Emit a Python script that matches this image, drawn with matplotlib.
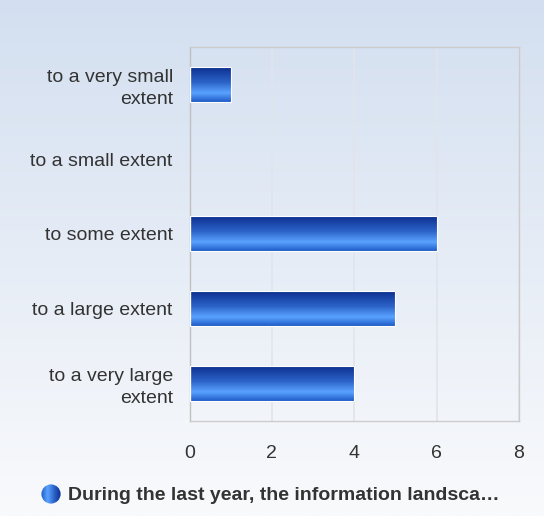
import numpy as np
import matplotlib.pyplot as plt
from matplotlib.colors import LinearSegmentedColormap

plt.rcParams['font.family'] = ['Liberation Sans', 'DejaVu Sans']

categories = ['to a very small\nextent', 'to a small extent', 'to some extent',
              'to a large extent', 'to a very large\nextent']
values = [1, 0, 6, 5, 4]
series_name = 'During the last year, the information landsca…'

W, H = 544, 516
fig = plt.figure(figsize=(W / 100, H / 100), dpi=100)

# background gradient
bg = fig.add_axes([0, 0, 1, 1], zorder=-10)
bg_cmap = LinearSegmentedColormap.from_list('bg', ['#f9fafc', '#d3dff0'])
bg.imshow(np.linspace(0, 1, 256).reshape(-1, 1), aspect='auto', cmap=bg_cmap,
          origin='lower', extent=[0, 1, 0, 1])
bg.axis('off')

left, right, top, bottom = 189.5, 519, 47, 420.5
ax = fig.add_axes([left / W, 1 - bottom / H, (right - left) / W, (bottom - top) / H])
ax.patch.set_alpha(0)

y = np.arange(len(categories))
bars = ax.barh(y, values, height=0.47, color='none', edgecolor='none', zorder=3)

bar_cmap = LinearSegmentedColormap.from_list(
    'bar', [(0, '#0a2c8c'), (0.45, '#2c63c8'), (0.75, '#5aa2ff'), (1, '#1f5cc8')])
grad = np.linspace(0, 1, 100).reshape(-1, 1)
for b in bars:
    if b.get_width() == 0:
        continue
    b.set_edgecolor('white')
    b.set_linewidth(0.8)
    x0, y0 = b.get_x(), b.get_y()
    im = ax.imshow(grad, aspect='auto', cmap=bar_cmap, origin='upper',
                   extent=[x0, x0 + b.get_width(), y0 + b.get_height(), y0], zorder=2)
    im.set_clip_path(b)

ax.set_xlim(0, 8)
ax.set_ylim(len(categories) - 0.5, -0.5)
ax.set_xticks([0, 2, 4, 6, 8])
ax.set_yticks(y)
ax.set_yticklabels(categories, ha='right', linespacing=1.35)
ax.tick_params(axis='both', length=0, labelsize=14, colors='#333333')
ax.tick_params(axis='x', pad=18)
ax.tick_params(axis='y', pad=12)
ax.grid(axis='x', color='#e2e4ea', linewidth=1.2, zorder=0)
for s in ax.spines.values():
    s.set_color('#cccccc')
    s.set_linewidth(1)
ax.spines['left'].set_color('#c0c0c0')

# legend
fig.text(68 / W, 1 - 496 / H, series_name, fontsize=14, fontweight='bold',
         color='#333333', va='center', ha='left')
lax = fig.add_axes([41 / W, 1 - 504 / H, 20 / W, 20 / H])
circ_grad = np.linspace(0, 1, 100).reshape(1, -1)
leg_cmap = LinearSegmentedColormap.from_list('leg', ['#1f5cc8', '#5aa2ff', '#2c63c8', '#0a2c8c'])
im = lax.imshow(circ_grad, aspect='auto', cmap=leg_cmap, extent=[0, 1, 0, 1])
c = plt.Circle((0.5, 0.5), 0.48, transform=lax.transData)
im.set_clip_path(c)
lax.set_xlim(0, 1)
lax.set_ylim(0, 1)
lax.axis('off')

fig.savefig('out.png', dpi=100)
